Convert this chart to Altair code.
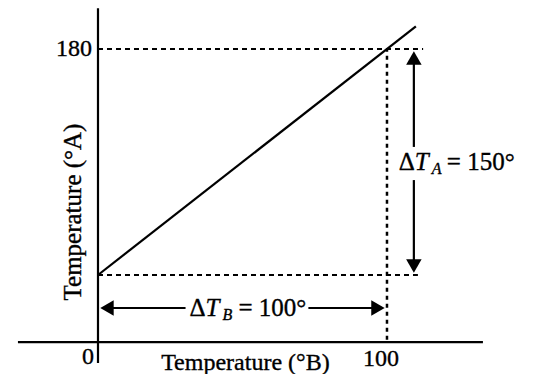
import altair as alt
import pandas as pd

# ---- data ----
line_x = [0, 110]          # Temperature (°B)
line_y = [30, 195]         # Temperature (°A)
A_low, A_high = 30, 180    # ΔT_A = 150
B_low, B_high = 0, 100     # ΔT_B = 100
y_tick_vals = [180]
y_tick_text = ["180"]
x_tick_vals = [0, 100]
x_tick_text = ["0", "100"]

FONT = "Liberation Serif"

# scales (plot frame)
xs = alt.Scale(domain=[-31.14, 149.14], nice=False, zero=False)
ys = alt.Scale(domain=[-35.71, 207.21], nice=False, zero=False)
X_AXIS_Y = -14.5          # where the horizontal axis is drawn
ARROW_A_X = 109.3         # position of the ΔT_A arrow
ARROW_B_Y = 8.1           # position of the ΔT_B arrow


def X(f="x"):
    return alt.X(f"{f}:Q", scale=xs, axis=None)


def Y(f="y"):
    return alt.Y(f"{f}:Q", scale=ys, axis=None)


def hrule(rows, **kw):
    return alt.Chart(pd.DataFrame(rows)).mark_rule(color="black", **kw).encode(
        x=X(), x2="x2:Q", y=Y())


def vrule(rows, **kw):
    return alt.Chart(pd.DataFrame(rows)).mark_rule(color="black", **kw).encode(
        x=X(), y=Y(), y2="y2:Q")


def head(x, y, shape, xo=0, yo=0):
    return alt.Chart(pd.DataFrame({"x": [x], "y": [y]})).mark_point(
        shape=shape, filled=True, size=240, color="black", opacity=1,
        strokeWidth=0, xOffset=xo, yOffset=yo).encode(x=X(), y=Y())


def txt(x, y, text, dx=0, dy=0, size=25, align="left", style="normal", angle=0):
    kw = dict(dx=dx, dy=dy, fontSize=size, font=FONT, align=align,
              baseline="middle", color="black", fontStyle=style,
              stroke="black", strokeWidth=0.35)
    if angle:
        kw["angle"] = angle
    return alt.Chart(pd.DataFrame({"x": [x], "y": [y], "t": [text]})).mark_text(**kw).encode(
        x=X(), y=Y(), text="t:N")


layers = []
# axes lines
layers.append(vrule({"x": [0], "y": [-28.4], "y2": [207.0]}, strokeWidth=2.2))
layers.append(hrule({"x": [-27.7], "x2": [133.2], "y": [X_AXIS_Y]}, strokeWidth=2.2))

# dotted guide lines
layers.append(hrule({"x": [0], "x2": [112.5], "y": [A_high]}, strokeWidth=2, strokeDash=[5, 4]))
layers.append(hrule({"x": [0], "x2": [110.7], "y": [A_low]}, strokeWidth=2, strokeDash=[5, 4]))
layers.append(vrule({"x": [B_high], "y": [X_AXIS_Y + 1.5], "y2": [A_high]}, strokeWidth=2.5, strokeDash=[4, 4]))

# main line
layers.append(alt.Chart(pd.DataFrame({"x": line_x, "y": line_y})).mark_line(
    color="black", strokeWidth=2.2).encode(x=X(), y=Y()))

# ΔT_A arrow (vertical)
layers.append(vrule({"x": [ARROW_A_X], "y": [115], "y2": [A_high - 4]}, strokeWidth=2.2))
layers.append(vrule({"x": [ARROW_A_X], "y": [A_low + 4], "y2": [93]}, strokeWidth=2.2))
layers.append(head(ARROW_A_X, A_high, "triangle-up", yo=9))
layers.append(head(ARROW_A_X, A_low, "triangle-down", yo=-9))

# ΔT_B arrow (horizontal)
layers.append(hrule({"x": [B_low + 2], "x2": [30.3], "y": [ARROW_B_Y]}, strokeWidth=2.2))
layers.append(hrule({"x": [72.8], "x2": [B_high - 2], "y": [ARROW_B_Y]}, strokeWidth=2.2))
layers.append(head(B_low, ARROW_B_Y, "triangle-left", xo=9))
layers.append(head(B_high, ARROW_B_Y, "triangle-right", xo=-9))

# ΔT_A label
ya = 105
layers.append(txt(ARROW_A_X, ya, "Δ", dx=-15))
layers.append(txt(ARROW_A_X, ya, "T", dx=1, style="italic"))
layers.append(txt(ARROW_A_X, ya, "A", dx=18, dy=7, size=16, style="italic"))
layers.append(txt(ARROW_A_X, ya, "= 150°", dx=33))

# ΔT_B label
layers.append(txt(50, ARROW_B_Y, "Δ", dx=-53))
layers.append(txt(50, ARROW_B_Y, "T", dx=-37, style="italic"))
layers.append(txt(50, ARROW_B_Y, "B", dx=-20, dy=7, size=16, style="italic"))
layers.append(txt(50, ARROW_B_Y, "= 100°", dx=-4))

# tick labels
for v, t in zip(y_tick_vals, y_tick_text):
    layers.append(txt(0, v, t, dx=-6, size=24, align="right"))
layers.append(txt(x_tick_vals[0], X_AXIS_Y, x_tick_text[0], dx=-10, dy=15, size=24, align="center"))
layers.append(txt(x_tick_vals[1], X_AXIS_Y, x_tick_text[1], dx=-6, dy=17, size=24, align="center"))

# axis titles
layers.append(txt(51, X_AXIS_Y, "Temperature (°B)", dy=21, size=24, align="center"))
layers.append(txt(-8.65, 71.8, "Temperature (°A)", size=25, align="center", angle=270))

chart = alt.layer(*layers).properties(
    width=521, height=366,
    autosize=alt.AutoSizeParams(type="none"),
    padding=0,
    background="white",
).configure_view(stroke=None)

chart.save("out.html", embed_options={"renderer": "svg", "actions": False})
